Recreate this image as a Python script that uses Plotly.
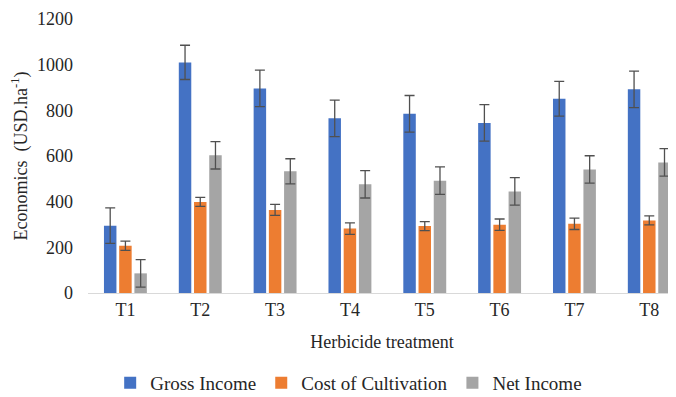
import plotly.graph_objects as go

treatments = ["T1", "T2", "T3", "T4", "T5", "T6", "T7", "T8"]
gross_income = [295, 1010, 896, 765, 785, 745, 851, 892]
gross_err = [78, 75, 80, 80, 80, 80, 76, 80]
cost_cultivation = [207, 399, 364, 282, 293, 299, 303, 318]
cost_err = [20, 20, 24, 25, 20, 25, 25, 20]
net_income = [86, 603, 533, 476, 492, 445, 541, 572]
net_err = [60, 60, 55, 60, 60, 60, 60, 60]

series = [
    ("Gross Income", gross_income, gross_err, "#4472C4"),
    ("Cost of Cultivation", cost_cultivation, cost_err, "#ED7D31"),
    ("Net Income", net_income, net_err, "#A5A5A5"),
]

fig = go.Figure()
for name, vals, errs, color in series:
    fig.add_trace(go.Bar(
        name=name, x=treatments, y=vals, marker_color=color,
        marker_line_width=0,
        error_y=dict(type="data", array=errs, visible=True,
                     color="#505050", thickness=1.3, width=5),
    ))

font = "Liberation Serif"
# page body has an 8px margin, so the figure is sized to the remaining space
fig.update_layout(
    width=668, height=389,
    barmode="group", bargap=0.39, bargroupgap=0.18,
    plot_bgcolor="white", paper_bgcolor="white",
    margin=dict(l=80, r=0, t=11, b=104, autoexpand=False),
    font=dict(family=font, size=18, color="#262626"),
    showlegend=True,
    legend=dict(orientation="h", x=0.51, xanchor="center", xref="container",
                y=0.036, yanchor="middle", yref="container",
                font=dict(family=font, size=19, color="#262626"),
                itemwidth=30, traceorder="normal"),
    xaxis=dict(range=[-0.5, 7.357], showline=True, linecolor="#D9D9D9",
               linewidth=1, ticks="", showgrid=False,
               title=dict(text="Herbicide treatment", standoff=16,
                          font=dict(family=font, size=18))),
    yaxis=dict(range=[0, 1200], dtick=200, showgrid=False, zeroline=False,
               showline=False, ticks="", ticklabelstandoff=14,
               title=dict(text="Economics  (USD.ha<sup>-1</sup>)", standoff=8,
                          font=dict(family=font, size=18))),
)
fig.write_html("out.html")
